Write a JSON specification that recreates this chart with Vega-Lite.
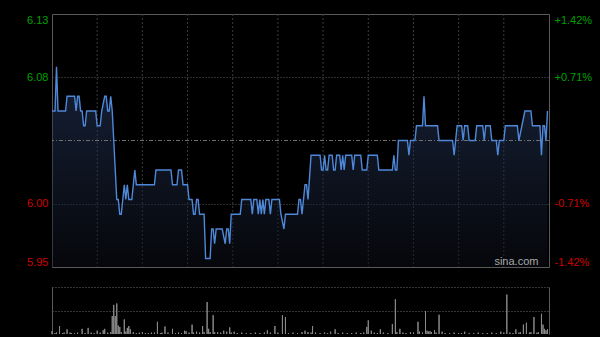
{
  "$schema": "https://vega.github.io/schema/vega-lite/v6.json",
  "background": "#000000",
  "autosize": {"type": "pad"},
  "padding": {"left": 26, "top": 13, "right": 8, "bottom": 5},
  "spacing": 19,
  "config": {
    "view": {"stroke": "#5a5a5a"},
    "axis": {"labelFont": "Liberation Sans", "labelFontSize": 11}
  },
  "datasets": {
    "price": [
      {"m":0,"p":6.06},{"m":2,"p":6.06},{"m":3,"p":6.09},{"m":4,"p":6.06},{"m":9,"p":6.06},{"m":10,"p":6.07},{"m":15,"p":6.07},{"m":16,"p":6.06},{"m":17,"p":6.07},{"m":18,"p":6.07},{"m":19,"p":6.06},{"m":20,"p":6.06},{"m":21,"p":6.05},{"m":22,"p":6.05},{"m":23,"p":6.06},{"m":29,"p":6.06},{"m":30,"p":6.05},{"m":32,"p":6.05},{"m":33,"p":6.06},{"m":35,"p":6.07},{"m":36,"p":6.07},{"m":37,"p":6.06},{"m":38,"p":6.06},{"m":39,"p":6.07},{"m":40,"p":6.06},{"m":43,"p":6.00},{"m":44,"p":6.00},{"m":45,"p":5.99},{"m":46,"p":5.99},{"m":47,"p":6.00},{"m":48,"p":6.01},{"m":49,"p":6.00},{"m":50,"p":6.01},{"m":51,"p":6.00},{"m":53,"p":6.00},{"m":55,"p":6.02},{"m":56,"p":6.01},{"m":68,"p":6.01},{"m":69,"p":6.02},{"m":79,"p":6.02},{"m":80,"p":6.01},{"m":83,"p":6.01},{"m":84,"p":6.02},{"m":86,"p":6.02},{"m":87,"p":6.01},{"m":90,"p":6.01},{"m":91,"p":6.00},{"m":93,"p":6.00},{"m":94,"p":5.99},{"m":95,"p":5.99},{"m":96,"p":6.00},{"m":97,"p":6.00},{"m":98,"p":5.99},{"m":101,"p":5.99},{"m":102,"p":5.96},{"m":105,"p":5.96},{"m":106,"p":5.98},{"m":107,"p":5.98},{"m":108,"p":5.97},{"m":109,"p":5.98},{"m":113,"p":5.98},{"m":115,"p":5.97},{"m":116,"p":5.98},{"m":117,"p":5.98},{"m":118,"p":5.97},{"m":119,"p":5.99},{"m":125,"p":5.99},{"m":126,"p":6.00},{"m":132,"p":6.00},{"m":133,"p":5.99},{"m":134,"p":6.00},{"m":136,"p":6.00},{"m":137,"p":5.99},{"m":138,"p":6.00},{"m":139,"p":5.99},{"m":140,"p":6.00},{"m":141,"p":5.99},{"m":142,"p":6.00},{"m":144,"p":6.00},{"m":145,"p":5.99},{"m":146,"p":6.00},{"m":151,"p":6.00},{"m":152,"p":5.99},{"m":154,"p":5.98},{"m":155,"p":5.99},{"m":163,"p":5.99},{"m":164,"p":6.00},{"m":165,"p":6.00},{"m":166,"p":5.99},{"m":168,"p":6.01},{"m":169,"p":6.01},{"m":170,"p":6.00},{"m":172,"p":6.03},{"m":178,"p":6.03},{"m":179,"p":6.02},{"m":180,"p":6.02},{"m":181,"p":6.03},{"m":182,"p":6.02},{"m":183,"p":6.02},{"m":184,"p":6.03},{"m":186,"p":6.03},{"m":187,"p":6.02},{"m":188,"p":6.02},{"m":189,"p":6.03},{"m":191,"p":6.03},{"m":192,"p":6.02},{"m":193,"p":6.03},{"m":194,"p":6.02},{"m":195,"p":6.03},{"m":199,"p":6.03},{"m":200,"p":6.02},{"m":201,"p":6.03},{"m":205,"p":6.03},{"m":206,"p":6.02},{"m":209,"p":6.02},{"m":210,"p":6.03},{"m":216,"p":6.03},{"m":217,"p":6.02},{"m":226,"p":6.02},{"m":227,"p":6.03},{"m":228,"p":6.02},{"m":229,"p":6.02},{"m":230,"p":6.04},{"m":236,"p":6.04},{"m":237,"p":6.03},{"m":238,"p":6.04},{"m":241,"p":6.04},{"m":242,"p":6.05},{"m":246,"p":6.05},{"m":247,"p":6.07},{"m":248,"p":6.05},{"m":256,"p":6.05},{"m":257,"p":6.04},{"m":266,"p":6.04},{"m":267,"p":6.03},{"m":269,"p":6.05},{"m":272,"p":6.05},{"m":273,"p":6.04},{"m":274,"p":6.05},{"m":276,"p":6.05},{"m":277,"p":6.04},{"m":281,"p":6.04},{"m":282,"p":6.05},{"m":286,"p":6.05},{"m":287,"p":6.04},{"m":288,"p":6.05},{"m":291,"p":6.05},{"m":292,"p":6.04},{"m":295,"p":6.04},{"m":296,"p":6.03},{"m":297,"p":6.04},{"m":300,"p":6.04},{"m":301,"p":6.05},{"m":309,"p":6.05},{"m":310,"p":6.04},{"m":312,"p":6.05},{"m":314,"p":6.06},{"m":318,"p":6.06},{"m":319,"p":6.05},{"m":324,"p":6.05},{"m":325,"p":6.03},{"m":326,"p":6.05},{"m":327,"p":6.05},{"m":328,"p":6.04},{"m":329,"p":6.06}
    ],
    "vol": [
      {"m":0,"v":6},{"m":2,"v":2},{"m":3,"v":3},{"m":5,"v":17},{"m":7,"v":2},{"m":8,"v":3},{"m":10,"v":10},{"m":12,"v":3},{"m":13,"v":2},{"m":15,"v":2},{"m":17,"v":3},{"m":20,"v":11},{"m":22,"v":2},{"m":24,"v":13},{"m":26,"v":3},{"m":28,"v":2},{"m":30,"v":7},{"m":32,"v":3},{"m":34,"v":8},{"m":35,"v":11},{"m":37,"v":3},{"m":39,"v":4},{"m":40,"v":38},{"m":41,"v":62},{"m":42,"v":38},{"m":43,"v":65},{"m":44,"v":18},{"m":45,"v":15},{"m":46,"v":4},{"m":48,"v":31},{"m":49,"v":5},{"m":50,"v":13},{"m":51,"v":17},{"m":52,"v":10},{"m":54,"v":4},{"m":56,"v":2},{"m":58,"v":3},{"m":60,"v":4},{"m":62,"v":2},{"m":64,"v":2},{"m":66,"v":3},{"m":68,"v":3},{"m":70,"v":26},{"m":72,"v":2},{"m":73,"v":3},{"m":75,"v":16},{"m":77,"v":3},{"m":80,"v":11},{"m":82,"v":2},{"m":84,"v":3},{"m":86,"v":2},{"m":88,"v":7},{"m":89,"v":6},{"m":91,"v":3},{"m":93,"v":20},{"m":94,"v":3},{"m":96,"v":5},{"m":98,"v":3},{"m":100,"v":17},{"m":101,"v":4},{"m":103,"v":68},{"m":104,"v":11},{"m":105,"v":4},{"m":107,"v":40},{"m":108,"v":4},{"m":110,"v":4},{"m":112,"v":3},{"m":114,"v":7},{"m":116,"v":5},{"m":118,"v":14},{"m":119,"v":3},{"m":121,"v":5},{"m":123,"v":2},{"m":126,"v":3},{"m":129,"v":2},{"m":132,"v":2},{"m":135,"v":3},{"m":138,"v":2},{"m":141,"v":3},{"m":143,"v":8},{"m":145,"v":3},{"m":148,"v":17},{"m":150,"v":3},{"m":153,"v":40},{"m":155,"v":36},{"m":157,"v":2},{"m":160,"v":3},{"m":163,"v":2},{"m":166,"v":4},{"m":168,"v":7},{"m":170,"v":4},{"m":172,"v":3},{"m":173,"v":17},{"m":175,"v":3},{"m":178,"v":2},{"m":181,"v":3},{"m":183,"v":2},{"m":185,"v":5},{"m":188,"v":10},{"m":190,"v":2},{"m":193,"v":3},{"m":196,"v":2},{"m":199,"v":2},{"m":202,"v":3},{"m":205,"v":2},{"m":207,"v":3},{"m":209,"v":15},{"m":210,"v":29},{"m":212,"v":7},{"m":214,"v":3},{"m":216,"v":2},{"m":218,"v":10},{"m":220,"v":3},{"m":223,"v":2},{"m":226,"v":21},{"m":228,"v":74},{"m":229,"v":4},{"m":231,"v":11},{"m":233,"v":3},{"m":235,"v":2},{"m":238,"v":4},{"m":240,"v":3},{"m":243,"v":26},{"m":244,"v":5},{"m":246,"v":3},{"m":248,"v":49},{"m":249,"v":7},{"m":250,"v":5},{"m":251,"v":6},{"m":252,"v":4},{"m":254,"v":8},{"m":255,"v":3},{"m":257,"v":41},{"m":259,"v":5},{"m":261,"v":2},{"m":264,"v":2},{"m":267,"v":3},{"m":270,"v":2},{"m":272,"v":2},{"m":274,"v":5},{"m":277,"v":2},{"m":280,"v":2},{"m":283,"v":3},{"m":286,"v":2},{"m":289,"v":2},{"m":292,"v":3},{"m":295,"v":2},{"m":298,"v":5},{"m":300,"v":3},{"m":302,"v":84},{"m":304,"v":3},{"m":306,"v":2},{"m":308,"v":10},{"m":310,"v":3},{"m":311,"v":4},{"m":313,"v":20},{"m":315,"v":24},{"m":317,"v":3},{"m":318,"v":4},{"m":320,"v":36},{"m":322,"v":3},{"m":323,"v":4},{"m":325,"v":43},{"m":326,"v":20},{"m":327,"v":11},{"m":328,"v":8},{"m":329,"v":10}
    ],
    "halfhours": [
      {"g":30},{"g":60},{"g":90},{"g":120},{"g":150},{"g":180},{"g":210},{"g":240},{"g":270},{"g":300}
    ]
  },
  "vconcat": [
    {
      "width": 497,
      "height": 253,
      "data": {"name": "price"},
      "layer": [
        {
          "data": {"name": "halfhours"},
          "mark": {"type": "rule", "color": "#3c3c3c", "strokeDash": [2, 2], "strokeWidth": 1},
          "encoding": {
            "x": {"field": "g", "type": "quantitative", "scale": {"domain": [0, 330], "nice": false, "zero": false}, "axis": null}
          }
        },
        {
          "mark": {"type": "area", "line": false, "clip": true, "color": {"gradient": "linear", "x1": 0, "y1": 0, "x2": 0, "y2": 1, "stops": [{"offset": 0, "color": "rgba(44,66,110,0.5)"}, {"offset": 1, "color": "rgba(12,14,22,0.5)"}]}},
          "encoding": {
            "x": {"field": "m", "type": "quantitative", "axis": null},
            "y": {"field": "p", "type": "quantitative", "scale": {"domain": [5.954232, 6.125768], "nice": false, "zero": false},
                  "axis": {"orient": "left", "values": [5.954232, 5.997116, 6.082884, 6.125768], "format": ".2f",
                           "labelColor": {"condition": {"test": "datum.value > 6.04", "value": "#00a000"}, "value": "#d00000"},
                           "labelFlush": true, "labelPadding": 4, "ticks": false, "domain": false, "title": null,
                           "grid": true, "gridColor": "#5a5a5a", "gridDash": [1, 2],
                           "gridOpacity": {"condition": {"test": "datum.value > 5.96 && datum.value < 6.12", "value": 1}, "value": 0}}},
            "y2": {"datum": 5.954232}
          }
        },
        {
          "data": {"values": [{}]},
          "mark": {"type": "rule", "color": "#707070", "strokeDash": [4, 2, 1, 2]},
          "encoding": {"y": {"datum": 6.04, "type": "quantitative", "axis": null}}
        },
        {
          "mark": {"type": "line", "color": "#4f88d8", "strokeWidth": 1.4},
          "encoding": {
            "x": {"field": "m", "type": "quantitative", "axis": null},
            "y": {"field": "p", "type": "quantitative",
                  "axis": {"orient": "right", "values": [5.954232, 5.997116, 6.082884, 6.125768],
                           "labelExpr": "(datum.value > 6.04 ? '+' : '-') + format(abs(datum.value / 6.04 - 1) * 100, '.2f') + '%'",
                           "labelColor": {"condition": {"test": "datum.value > 6.04", "value": "#00a000"}, "value": "#d00000"},
                           "labelFlush": true, "labelPadding": 5, "ticks": false, "domain": false, "grid": false, "title": null}}
          }
        },
        {
          "data": {"values": [{}]},
          "mark": {"type": "text", "text": "sina.com", "align": "right", "baseline": "middle", "color": "#a8a8a8", "font": "Liberation Sans", "fontSize": 11},
          "encoding": {
            "x": {"datum": 323, "type": "quantitative", "axis": null},
            "y": {"datum": 5.9575, "type": "quantitative", "axis": null}
          }
        }
      ],
      "resolve": {"axis": {"y": "independent"}}
    },
    {
      "width": 497,
      "height": 47,
      "data": {"name": "vol"},
      "view": {"stroke": null},
      "layer": [
        {
          "mark": {"type": "rule", "color": "#8a8a8a"},
          "encoding": {
            "x": {"field": "m", "type": "quantitative", "scale": {"domain": [0, 330], "nice": false, "zero": false},
                  "axis": {"domain": true, "domainColor": "#5a5a5a", "labels": false, "ticks": false, "grid": false, "title": null}},
            "y": {"field": "v", "type": "quantitative", "scale": {"domain": [0, 100], "nice": false},
                  "axis": {"orient": "left", "values": [50, 100], "grid": true, "gridColor": "#6a6a6a", "gridDash": [1, 2], "labels": false, "ticks": false, "domain": true, "domainColor": "#5a5a5a", "title": null}},
            "y2": {"datum": 0}
          }
        },
        {
          "mark": {"type": "rule", "color": "#8a8a8a"},
          "encoding": {
            "x": {"field": "m", "type": "quantitative", "axis": null},
            "y": {"field": "v", "type": "quantitative",
                  "axis": {"orient": "right", "labels": false, "ticks": false, "grid": false, "domain": true, "domainColor": "#5a5a5a", "title": null}},
            "y2": {"datum": 0}
          }
        }
      ],
      "resolve": {"axis": {"y": "independent"}}
    }
  ]
}
